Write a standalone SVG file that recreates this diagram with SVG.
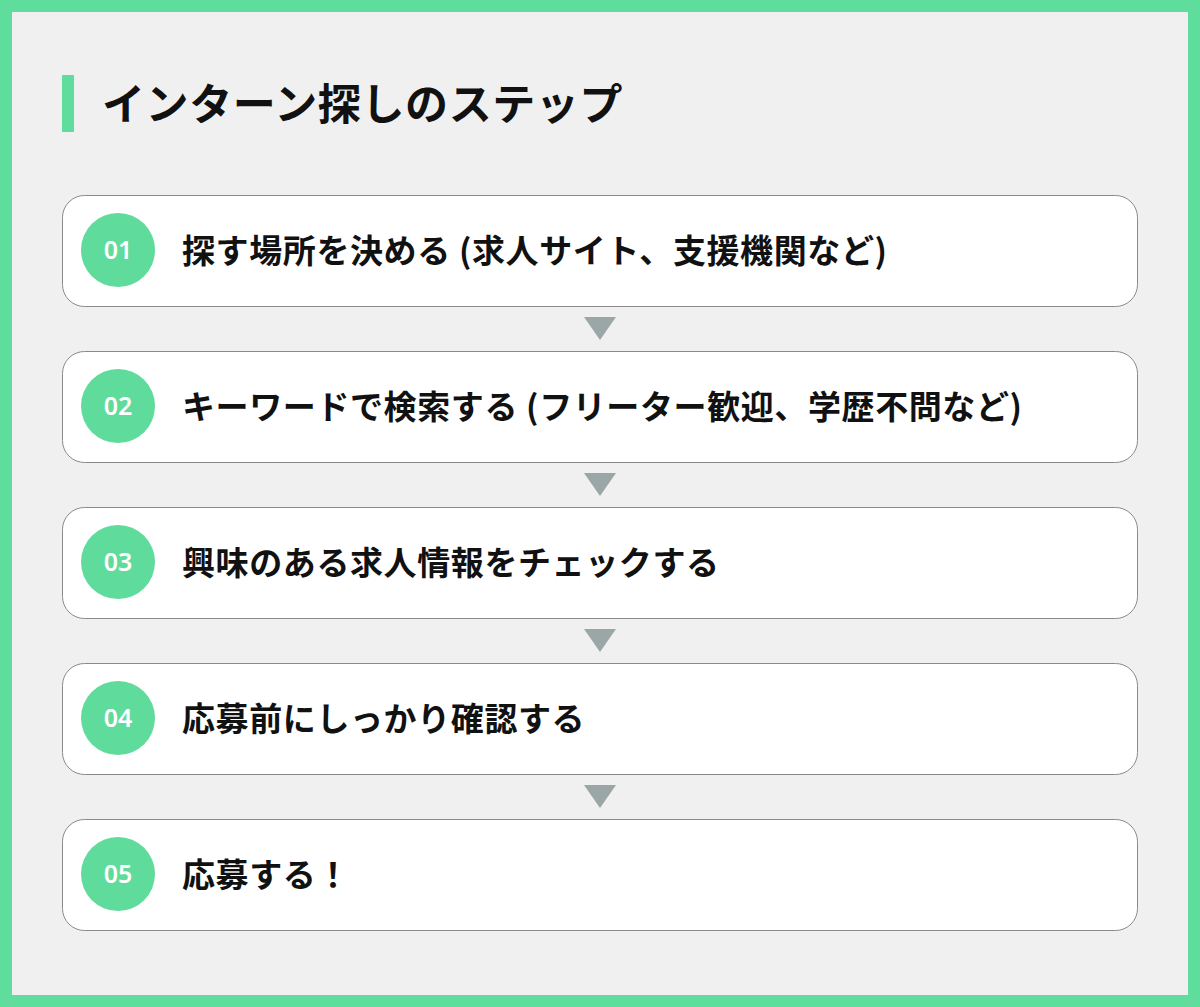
<svg xmlns="http://www.w3.org/2000/svg" width="1200" height="1007" viewBox="0 0 1200 1007">
<style>
.box{fill:#ffffff;stroke:#8a8a8a;stroke-width:1}
.num{fill:#5fdb9c}
.numt{font-family:"Noto Sans","Open Sans",sans-serif;font-size:25px;font-weight:600;fill:#ffffff;text-anchor:middle}
.lbl{font-family:"Noto Sans CJK JP","Noto Sans",sans-serif;font-size:33px;font-weight:bold;fill:#111111;letter-spacing:0.6px}
.arr{fill:#9ba6a6}
</style>
<rect x="0" y="0" width="1200" height="1007" fill="#5fdd9d"/>
<rect x="12" y="12" width="1176" height="983" fill="#f0f0f0"/>
<g id="title">
<rect x="62" y="75" width="12" height="57" fill="#5fdd9d"/>
<text x="102" y="120" font-family="'Noto Sans CJK JP','Noto Sans',sans-serif" font-size="43" font-weight="bold" fill="#111111" letter-spacing="0.6">インターン探しのステップ</text>
</g>
<g id="connectors">
<polygon class="arr" points="584,317 616,317 600,340"/>
<polygon class="arr" points="584,473 616,473 600,496"/>
<polygon class="arr" points="584,629 616,629 600,652"/>
<polygon class="arr" points="584,785 616,785 600,808"/>
</g>
<g id="step1">
<rect class="box" x="62.5" y="195.5" width="1075" height="111" rx="22"/>
<circle class="num" cx="118" cy="250" r="37"/>
<text class="numt" x="118" y="259">01</text>
<text class="lbl" x="182" y="263">探す場所を決める (求人サイト、支援機関など)</text>
</g>
<g id="step2">
<rect class="box" x="62.5" y="351.5" width="1075" height="111" rx="22"/>
<circle class="num" cx="118" cy="406" r="37"/>
<text class="numt" x="118" y="415">02</text>
<text class="lbl" x="182" y="419">キーワードで検索する (フリーター歓迎、学歴不問など)</text>
</g>
<g id="step3">
<rect class="box" x="62.5" y="507.5" width="1075" height="111" rx="22"/>
<circle class="num" cx="118" cy="562" r="37"/>
<text class="numt" x="118" y="571">03</text>
<text class="lbl" x="182" y="575">興味のある求人情報をチェックする</text>
</g>
<g id="step4">
<rect class="box" x="62.5" y="663.5" width="1075" height="111" rx="22"/>
<circle class="num" cx="118" cy="718" r="37"/>
<text class="numt" x="118" y="727">04</text>
<text class="lbl" x="182" y="731">応募前にしっかり確認する</text>
</g>
<g id="step5">
<rect class="box" x="62.5" y="819.5" width="1075" height="111" rx="22"/>
<circle class="num" cx="118" cy="874" r="37"/>
<text class="numt" x="118" y="883">05</text>
<text class="lbl" x="182" y="887">応募する！</text>
</g>
</svg>
